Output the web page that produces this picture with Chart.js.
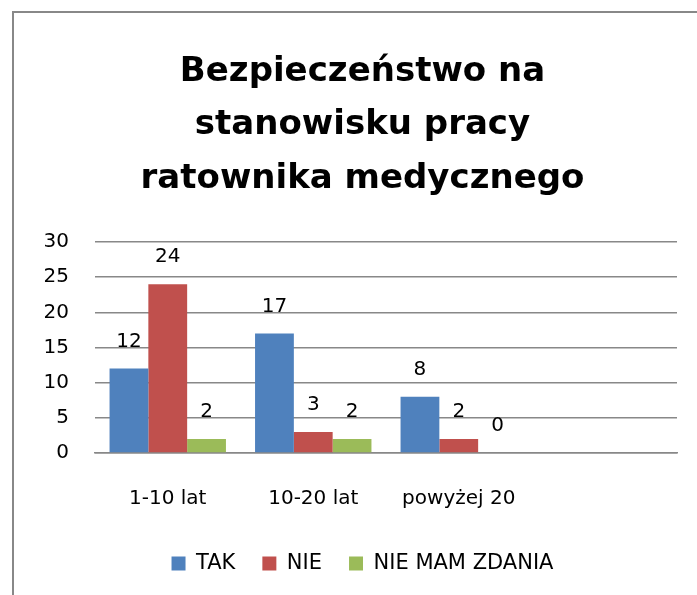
<!DOCTYPE html>
<html lang="pl">
<head>
<meta charset="UTF-8">
<title>Bezpieczeństwo na stanowisku pracy ratownika medycznego</title>
<style>
  body {
    margin: 0;
    background: #fff;
    overflow: hidden;
  }
  .frame {
    position: absolute;
    left: 12px;
    top: 11px;
    width: 720px;
    height: 620px;
    border: 2px solid #888;
  }
  .chart-box {
    position: absolute;
    left: 14px;
    top: 13px;
    width: 697px;
    height: 584px;
  }
</style>
</head>
<body>
<div class="frame"></div>
<div class="chart-box">
  <canvas id="safetyChart"></canvas>
</div>

<script src="https://cdn.jsdelivr.net/npm/chart.js"></script>
<script>
  // data
  const categories = ['1-10 lat', '10-20 lat', 'powyżej 20', ''];
  const takValues = [12, 17, 8];
  const nieValues = [24, 3, 2];
  const brakZdaniaValues = [2, 2, 0];
  const yTicks = [0, 5, 10, 15, 20, 25, 30];

  const font = "'DejaVu Sans', sans-serif";

  // values written above each bar
  const valueLabels = {
    id: 'valueLabels',
    afterDatasetsDraw(chart) {
      const ctx = chart.ctx;
      ctx.save();
      ctx.font = '20px ' + font;
      ctx.fillStyle = '#000';
      ctx.textAlign = 'center';
      ctx.textBaseline = 'middle';
      chart.data.datasets.forEach((ds, i) => {
        const meta = chart.getDatasetMeta(i);
        meta.data.forEach((bar, j) => {
          if (ds.data[j] === undefined) return;
          ctx.fillText(ds.data[j], bar.x, bar.y - 27);
        });
      });
      ctx.restore();
    }
  };

  const safetyChart = new Chart(
    document.getElementById('safetyChart'),
    {
      type: 'bar',
      data: {
        labels: categories,
        datasets: [{
          label: 'TAK',
          data: takValues,
          backgroundColor: '#4F81BD'
        }, {
          label: 'NIE',
          data: nieValues,
          backgroundColor: '#C0504D'
        }, {
          label: 'NIE MAM ZDANIA',
          data: brakZdaniaValues,
          backgroundColor: '#9BBB59'
        }]
      },
      options: {
        responsive: true,
        maintainAspectRatio: false,
        animation: false,
        layout: {
          padding: { left: 0, right: 0, top: 0, bottom: 13 }
        },
        datasets: {
          bar: { categoryPercentage: 0.8, barPercentage: 1 }
        },
        plugins: {
          title: {
            display: true,
            text: ['Bezpieczeństwo na', 'stanowisku pracy', 'ratownika medycznego'],
            color: '#000',
            font: { family: font, size: 34, weight: 'bold', lineHeight: 53.5 / 34 },
            padding: { top: 32, bottom: 36.5 }
          },
          legend: {
            position: 'bottom',
            labels: {
              color: '#000',
              font: { family: font, size: 21 },
              boxWidth: 14,
              boxHeight: 14,
              padding: 27
            }
          },
          tooltip: { enabled: false }
        },
        scales: {
          x: {
            grid: { display: false, drawTicks: false },
            border: { display: true, color: '#888', width: 1.5 },
            ticks: {
              color: '#000',
              font: { family: font, size: 20 },
              padding: 34,
              maxRotation: 0
            },
            afterFit(scale) { scale.height = 73; }
          },
          y: {
            min: 0,
            max: 30,
            afterBuildTicks(scale) { scale.ticks = yTicks.map(v => ({ value: v })); },
            grid: { color: '#888', lineWidth: 1.5, drawTicks: false },
            border: { display: false },
            ticks: {
              color: '#000',
              font: { family: font, size: 20 },
              padding: 26
            },
            afterFit(scale) { scale.width = 81; }
          },
          // empty right-hand strip, keeps the plot narrower than the title/legend
          yRight: {
            position: 'right',
            grid: { display: false },
            border: { display: false },
            ticks: { display: false },
            afterFit(scale) { scale.width = 34; }
          }
        }
      },
      plugins: [valueLabels]
    }
  );
</script>
</body>
</html>
